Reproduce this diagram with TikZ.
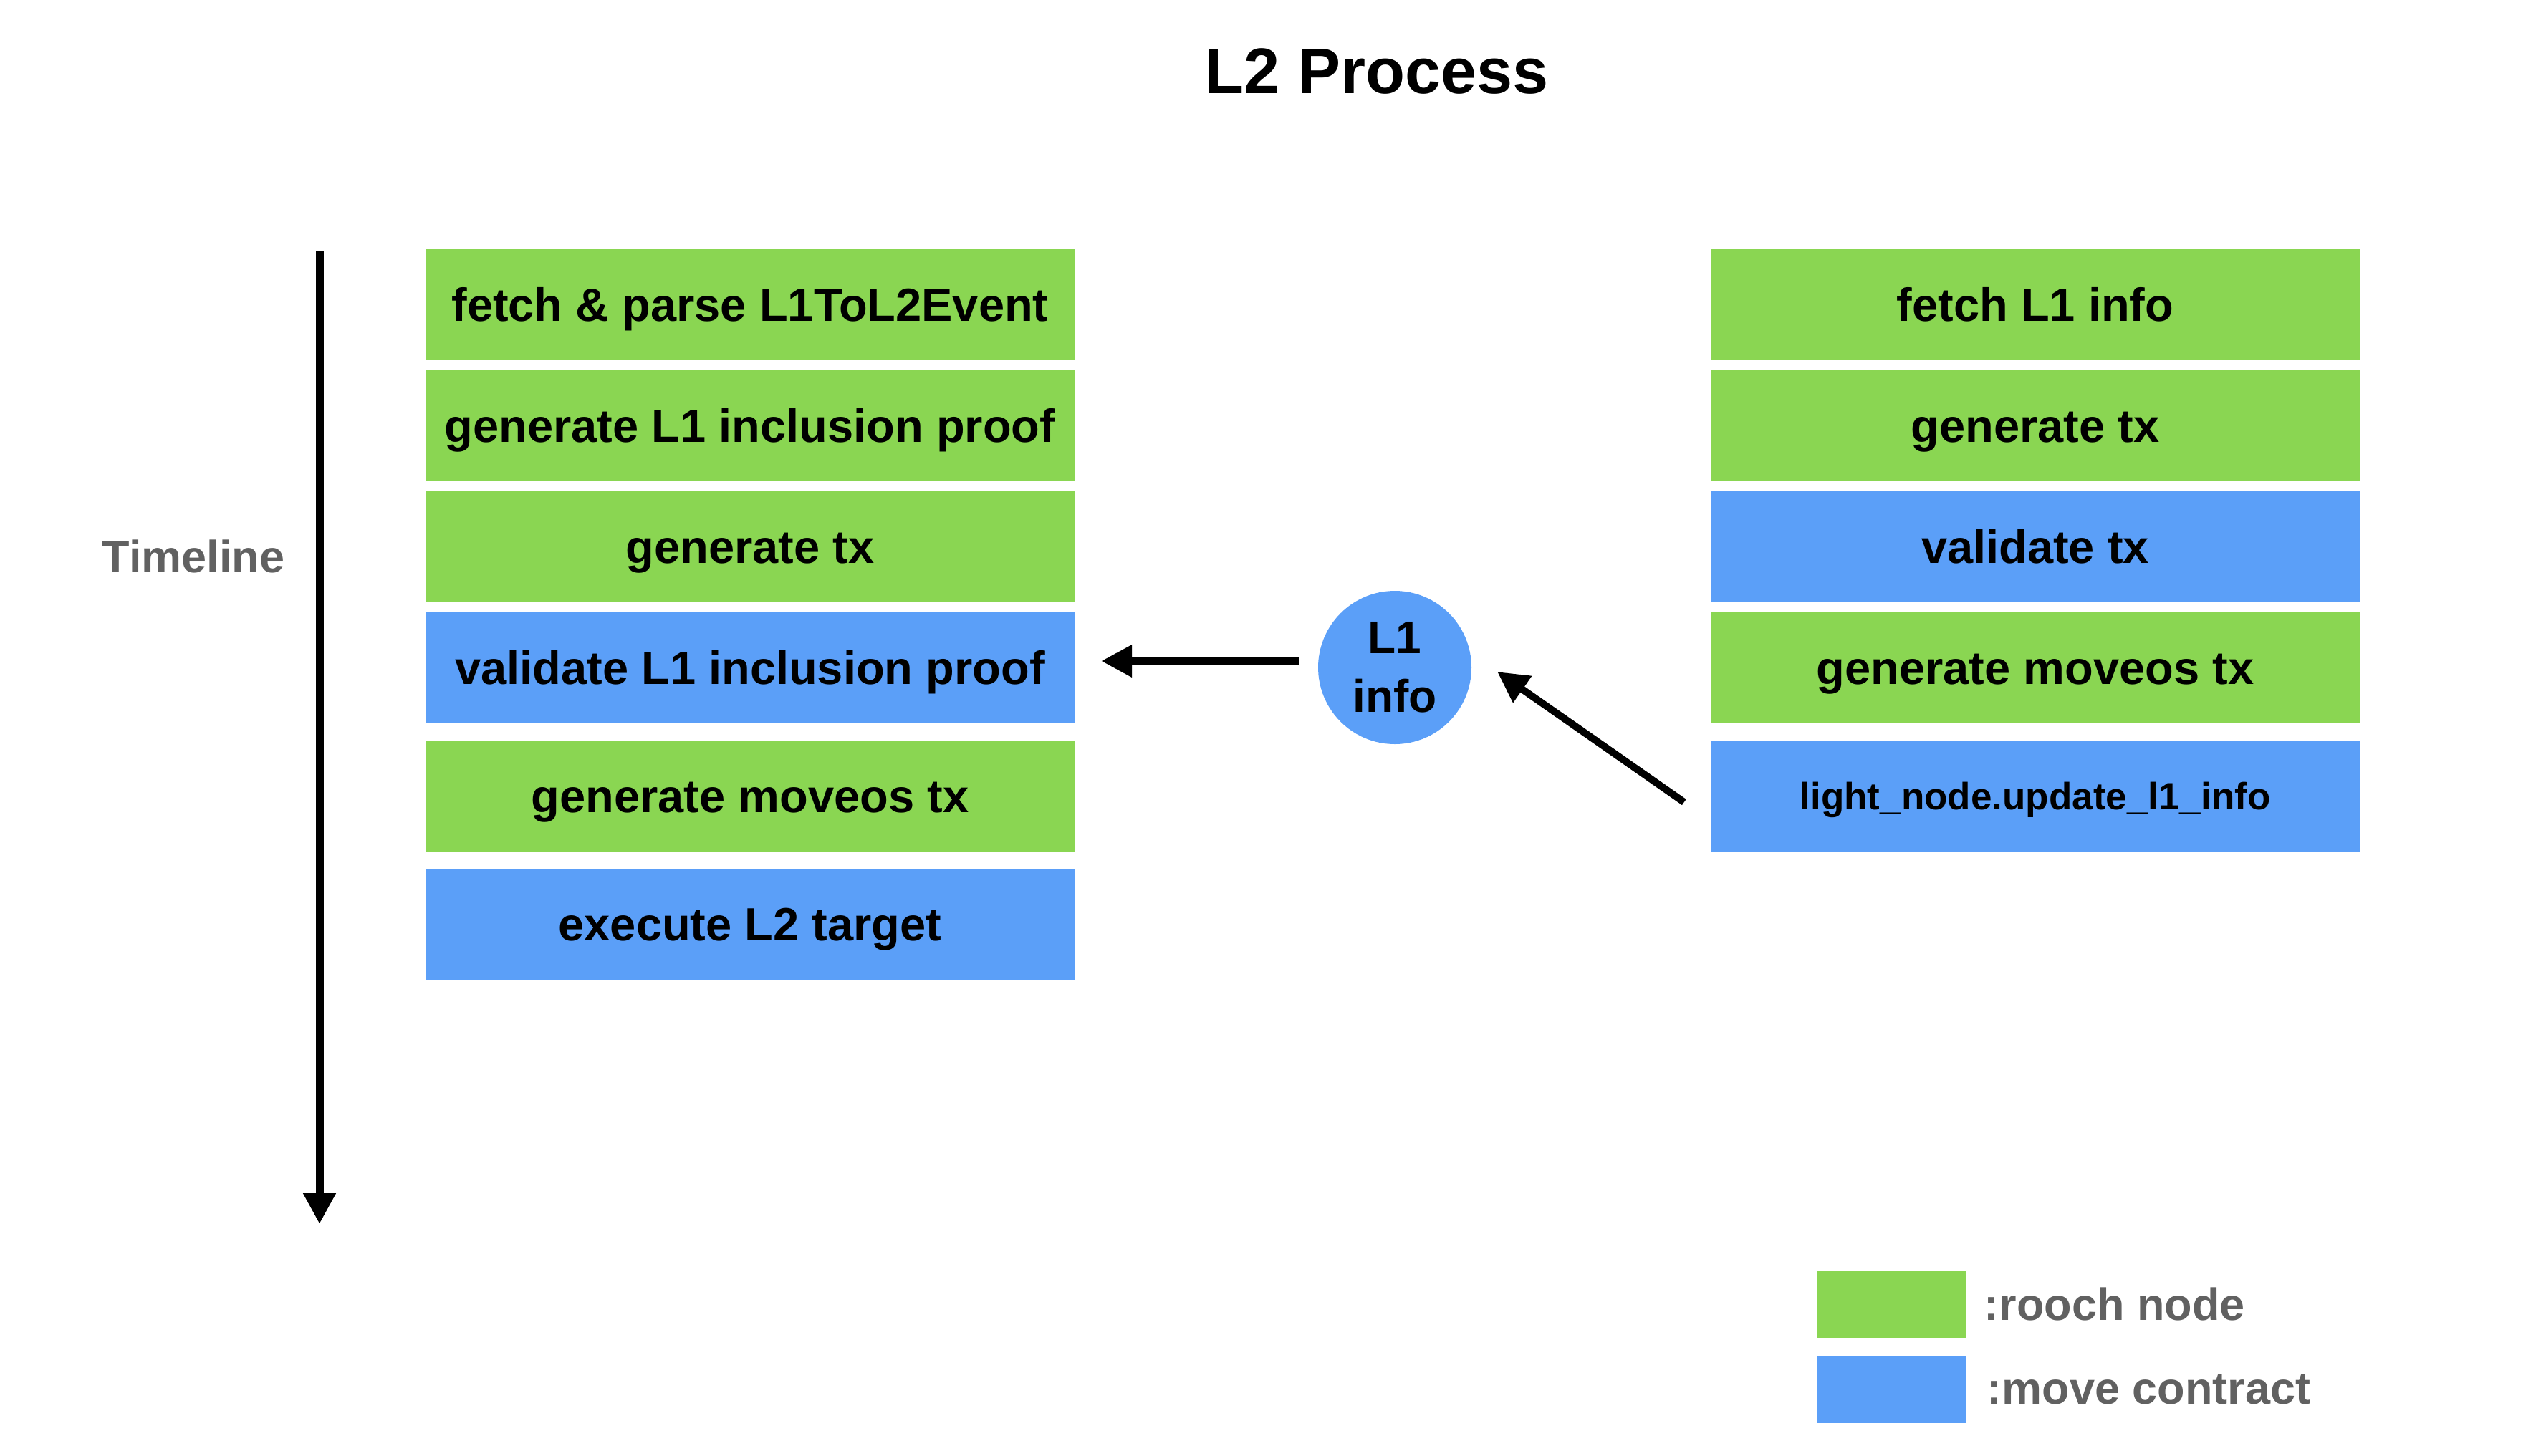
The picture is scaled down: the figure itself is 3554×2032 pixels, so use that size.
\documentclass[tikz,border=0pt]{standalone}
\usepackage{fontspec}
\setmainfont{Liberation Sans}
\usetikzlibrary{arrows.meta}
\definecolor{gbox}{RGB}{138,214,82}
\definecolor{bbox}{RGB}{91,159,248}
\definecolor{gtext}{RGB}{97,97,97}
\begin{document}
\begin{tikzpicture}[x=1pt,y=-1pt,
  stepbox/.style={minimum width=906pt, minimum height=155pt, inner sep=0pt,
    text height=47pt, text depth=0pt,
    font=\fontsize{65}{78}\selectfont\bfseries},
  rooch/.style={stepbox, fill=gbox},
  movec/.style={stepbox, fill=bbox},
  legbox/.style={minimum width=209pt, minimum height=93pt, inner sep=0pt},
  legtext/.style={anchor=west, inner sep=0pt, text=gtext, font=\fontsize{63}{76}\selectfont\bfseries},
  arr/.style={line width=10pt, -{Triangle[width=43pt,length=43pt]}},
]
\useasboundingbox[fill=white] (0,0) rectangle (3554,2032);

\node[font=\fontsize{90}{100}\selectfont\bfseries, inner sep=0pt] (title) at (1922,100) {L2 Process};

% timeline
\coordinate (tl0) at (446,351);
\coordinate (tl1) at (446,1709);
\draw[arr, line width=11pt] (tl0) -- (tl1);
\node[text=gtext, font=\fontsize{63}{76}\selectfont\bfseries, inner sep=0pt] (tltext) at (270,777) {Timeline};

% left column
\node[rooch] (l1) at (1047,425) {fetch \& parse L1ToL2Event};
\node[rooch] (l2) at (1047,594) {generate L1 inclusion proof};
\node[rooch] (l3) at (1047,763) {generate tx};
\node[movec] (l4) at (1047,932) {validate L1 inclusion proof};
\node[rooch] (l5) at (1047,1111) {generate moveos tx};
\node[movec] (l6) at (1047,1290) {execute L2 target};

% right column
\node[rooch] (r1) at (2841,425) {fetch L1 info};
\node[rooch] (r2) at (2841,594) {generate tx};
\node[movec] (r3) at (2841,763) {validate tx};
\node[rooch] (r4) at (2841,932) {generate moveos tx};
\node[movec, text height=38pt, font=\fontsize{53}{64}\selectfont\bfseries] (r5) at (2841,1111) {light\_node.update\_l1\_info};

% circle
\node[circle, fill=bbox, minimum size=214pt, inner sep=0pt, align=center,
  font=\fontsize{64}{82}\selectfont\bfseries] (info) at (1947,932) {L1\\info};

% connectors
\draw[arr] ([xshift=-27pt, yshift=9pt]info.west) -- ([xshift=37pt, yshift=9pt]l4.east);
\coordinate (dstart) at ([xshift=-37pt, yshift=-9pt]r5.west);
\coordinate (dend) at ([xshift=143pt, yshift=-6pt]info.center);
\draw[arr] (dstart) -- (dend);

% legend
\node[legbox, fill=gbox] (lg) at (2640,1821) {};
\node[legbox, fill=bbox] (lb) at (2640,1940) {};
\node[legtext] (lgt) at ([xshift=25pt]lg.east) {:rooch node};
\node[legtext] (lbt) at ([xshift=29pt]lb.east) {:move contract};
\end{tikzpicture}
\end{document}
